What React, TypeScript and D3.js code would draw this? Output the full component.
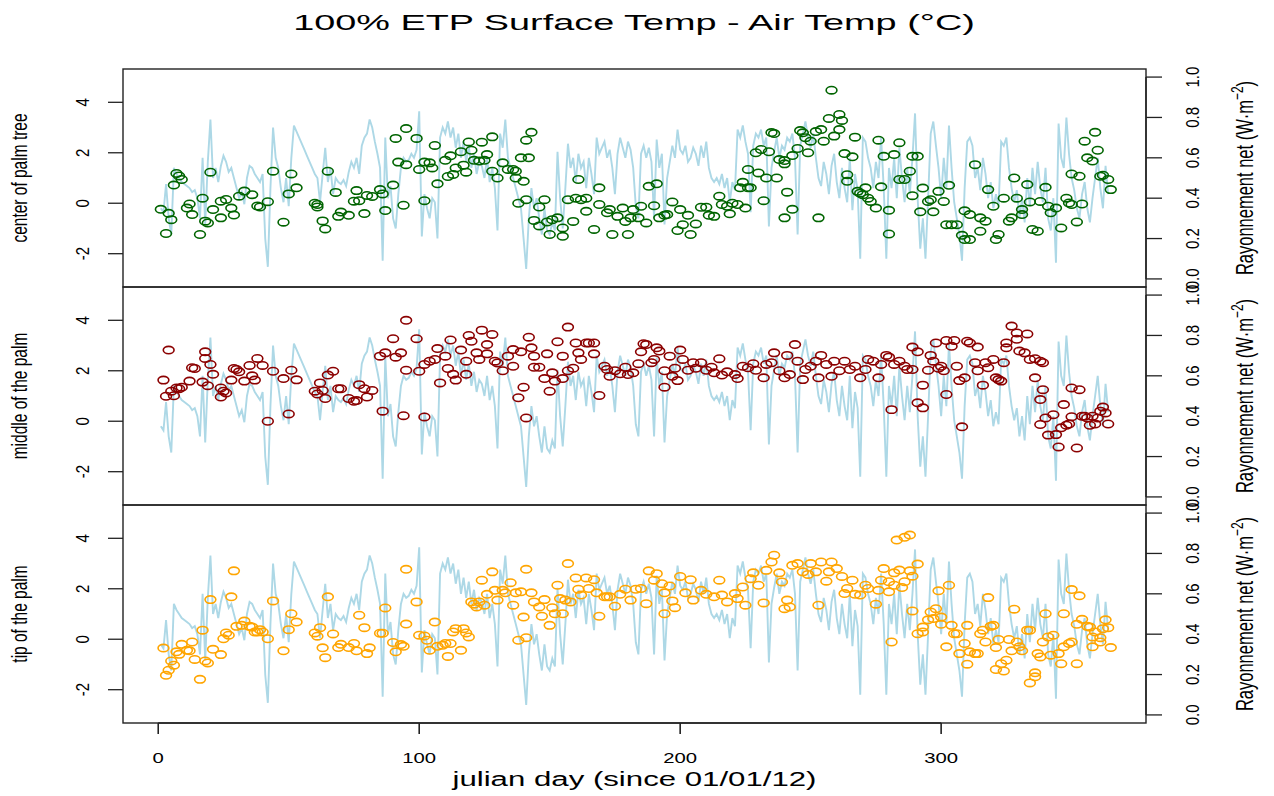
import React from "react";
import * as d3 from "d3";

const dayTicks = [0, 100, 200, 300];
const tempTicks = [-2, 0, 2, 4];
const radTicks = [0, 0.2, 0.4, 0.6, 0.8, 1.0];
const panelLabels = ["center of palm tree", "middle of the palm", "tip of the palm"];
const panelColors = ["#006400", "#8B0000", "#FFA500"];

// net radiation, day 1..364
const netRadiation = [
0.35,0.33,0.47,0.30,0.22,0.55,0.52,0.50,0.48,0.47,
0.46,0.45,0.43,0.44,0.40,0.30,0.60,0.27,0.58,0.79,
0.50,0.55,0.48,0.56,0.61,0.58,0.53,0.55,0.50,0.45,
0.40,0.43,0.37,0.50,0.56,0.55,0.52,0.50,0.48,0.52,
0.20,0.06,0.45,0.75,0.60,0.55,0.45,0.38,0.50,0.36,
0.60,0.76,0.73,0.70,0.67,0.64,0.61,0.58,0.55,0.52,
0.50,0.38,0.52,0.65,0.48,0.55,0.42,0.50,0.48,0.47,
0.49,0.46,0.53,0.58,0.55,0.60,0.52,0.66,0.70,0.72,
0.79,0.75,0.68,0.62,0.55,0.09,0.70,0.40,0.46,0.30,
0.25,0.42,0.55,0.60,0.58,0.59,0.62,0.60,0.64,0.83,
0.21,0.42,0.35,0.30,0.40,0.38,0.20,0.70,0.75,0.72,
0.78,0.70,0.75,0.65,0.72,0.60,0.68,0.58,0.66,0.55,
0.62,0.52,0.58,0.56,0.50,0.60,0.48,0.55,0.45,0.24,
0.72,0.65,0.79,0.60,0.55,0.50,0.45,0.40,0.35,0.20,
0.05,0.30,0.45,0.35,0.40,0.30,0.22,0.35,0.24,0.22,
0.28,0.24,0.63,0.40,0.25,0.45,0.67,0.55,0.60,0.48,
0.62,0.55,0.58,0.45,0.60,0.52,0.42,0.70,0.62,0.65,
0.68,0.60,0.64,0.55,0.42,0.62,0.70,0.65,0.60,0.68,
0.64,0.55,0.36,0.30,0.62,0.66,0.60,0.65,0.58,0.30,
0.69,0.55,0.62,0.27,0.50,0.58,0.66,0.60,0.74,0.64,
0.62,0.66,0.58,0.60,0.65,0.62,0.56,0.66,0.60,0.68,
0.55,0.50,0.48,0.50,0.47,0.52,0.45,0.50,0.38,0.48,
0.44,0.74,0.70,0.76,0.68,0.62,0.33,0.66,0.72,0.70,
0.74,0.66,0.70,0.26,0.55,0.63,0.70,0.60,0.66,0.64,
0.70,0.68,0.72,0.60,0.22,0.66,0.72,0.78,0.70,0.65,
0.72,0.60,0.50,0.46,0.58,0.52,0.42,0.56,0.62,0.48,
0.40,0.55,0.45,0.38,0.60,0.34,0.52,0.44,0.10,0.70,
0.68,0.60,0.55,0.45,0.58,0.50,0.70,0.45,0.10,0.55,
0.45,0.60,0.40,0.65,0.50,0.38,0.55,0.42,0.60,0.82,
0.40,0.15,0.30,0.10,0.40,0.72,0.78,0.66,0.55,0.40,
0.60,0.45,0.76,0.55,0.38,0.30,0.22,0.09,0.45,0.68,
0.70,0.66,0.50,0.55,0.44,0.60,0.52,0.40,0.48,0.35,
0.42,0.36,0.68,0.66,0.70,0.55,0.45,0.38,0.44,0.30,
0.40,0.28,0.50,0.36,0.55,0.42,0.58,0.45,0.38,0.55,
0.30,0.24,0.40,0.08,0.77,0.60,0.55,0.80,0.62,0.50,
0.44,0.35,0.30,0.42,0.48,0.35,0.28,0.40,0.50,0.60,
0.45,0.35,0.56,0.42
];

// [julian day, surface - air temperature]
const centerPalm: [number, number][] = [
[1,-0.24],[3,-1.2],[4,-0.4],[5,-0.65],[6,0.72],[7,1.18],[8,1.08],[9,0.94],[11,-0.19],[12,-0.03],[13,-0.45],[16,-1.24],[17,0.2],[18,-0.71],[19,-0.78],[20,1.23],[21,-0.25],[24,-0.58],[24,0.08],[26,0.15],[28,-0.19],[29,-0.47],[31,0.28],[33,0.48],[36,0.34],[38,-0.11],[39,-0.15],[42,0.06],[44,1.27],[48,-0.75],[50,0.37],[51,1.16],[53,0.61],[60,0],[61,-0.05],[61,-0.15],[63,-0.7],[64,-1.02],[65,1.27],[68,0.43],[69,-0.52],[70,-0.35],[73,-0.48],[75,0.08],[76,0.5],[77,0.1],[79,-0.41],[80,0.31],[82,0.27],[85,0.54],[86,0.37],[87,-0.29],[90,0.72],[91,2.57],[92,1.63],[94,-0.08],[95,1.53],[95,2.96],[99,2.57],[100,1.34],[102,0.1],[102,1.63],[104,1.6],[105,1.4],[106,2.29],[107,0.77],[110,1.7],[111,1.06],[112,1.88],[113,1.14],[114,1.4],[116,2.04],[117,1.51],[118,1.23],[119,2.43],[120,2.1],[121,1.7],[123,1.67],[124,2.42],[125,1.7],[126,1.93],[128,2.63],[128,1.27],[130,1.0],
[132,1.6],[134,1.34],[136,1.34],[137,1.0],[137,1.27],[138,0.0],[139,1.8],[140,0.87],[141,0.14],[141,2.5],[142,1.8],[143,2.81],[144,-0.68],[146,-0.15],[146,-0.9],[148,0.14],[149,-0.74],[150,-1.24],[151,-0.65],[153,-0.58],[155,-1.31],[155,-0.98],[157,0.14],[159,-0.72],[160,0.2],[161,0.94],[162,0.14],[164,0.2],[164,-0.32],[167,-1.04],[169,-0.05],[169,0.61],[172,-0.38],[173,-0.25],[174,-1.24],[176,-0.52],[178,-0.19],[179,-0.72],[180,-1.24],[181,-0.58],[182,-0.25],[184,-0.58],[185,-0.12],[187,-0.78],[188,0.67],[190,-0.1],[191,0.77],[192,-0.58],[194,-0.48],[195,-0.45],[197,0.05],[199,-1.08],[200,-0.25],[201,-0.85],[203,-0.48],[204,-1.24],[206,-0.82],[208,-0.16],[210,-0.16],[211,-0.48],[213,-0.52],[215,0.28],[216,-0.05],[218,-0.12],[219,-0.42],[220,0],[222,-0.05],[223,0.61],[224,0.83],[225,-0.19],[226,0.61],[226,1.34],[227,0.61],[229,2.0],[230,1.2],[231,2.13],[232,0.1],[233,1.0],[234,2.04],[235,2.8],[236,2.76],[237,1.0],[238,1.73],[240,1.69],[240,1.56],[241,0.44],[240,-0.58],[243,-0.24],[243,1.89],[245,2.17],[246,2.88],[247,2.79],[248,2.6],[249,2.0],[250,2.46],[252,2.84],[253,-0.58],[254,2.92],[255,2.46],[257,3.36],[258,4.48],[259,2.66],[261,2.92],[261,3.52],[262,3.28],[263,1.97],[264,0.87],[264,1.13],[266,1.84],[267,2.62],[268,0.47],[269,0.4],[270,0.34],[271,0.61],[272,0.2],[273,0.07],[275,-0.19],[276,2.5],[277,0.65],[278,1.86],[280,-0.28],[280,-1.22],[282,1.93],[284,2.4],[284,0.94],
[286,0.94],[288,1.27],[289,1.86],[289,0.3],[291,1.86],[292,-0.34],[293,0.6],[295,0.07],[296,0.14],[297,-0.34],[299,0.47],[301,0.07],[302,-0.85],[303,0.71],[304,-0.85],[306,-0.85],[308,-1.27],[309,-0.3],[309,-1.44],[311,-0.45],[311,-1.44],[313,1.53],[315,-0.58],[315,-1.11],[317,-0.71],[318,0.54],[320,-0.12],[321,-1.44],[322,-1.24],[324,0.2],[326,-0.71],[327,-0.58],[328,1.0],[329,0.2],[331,-0.25],[331,-0.45],[333,0.74],[334,0.05],[335,-1.04],[337,-1.11],[338,0.07],[340,0.63],[341,-0.12],[342,-0.38],[344,-0.19],[346,-0.98],[348,0.2],[349,0.01],[350,-0.05],[350,1.16],[352,-0.74],[353,1.07],[354,-0.03],[355,2.46],[356,1.8],[358,1.67],[359,2.81],[360,2.1],[361,1.07],[362,1.11],[364,0.94],[365,0.54]
];

const middlePalm: [number, number][] = [
[2,1.63],[4,2.82],[3,0.99],[5,1.19],[6,1.01],[7,1.32],[8,1.29],[9,1.35],[12,1.59],[13,2.12],[14,2.09],[17,1.55],[18,2.75],[18,2.49],[19,1.41],[20,2.25],[21,1.86],[24,0.96],[24,1.32],[25,1.19],[26,1.12],[28,1.63],[29,2.09],[30,2.05],[31,1.96],[33,1.59],[35,2.21],[36,1.8],[37,1.63],[38,2.49],[40,2.21],[42,0.0],[44,1.98],[48,1.69],[50,0.29],[51,2.02],[53,1.64],[60,1.19],[61,1.08],[62,1.52],[63,1.22],[64,0.9],[65,1.83],[67,1.98],[69,1.29],[70,1.29],[73,0.9],[75,0.79],[76,0.82],[77,1.45],[79,1.29],[80,0.96],[82,1.22],[85,2.58],[86,0.4],[87,2.71],[90,3.27],[91,2.54],[93,2.71],[94,0.22],[95,2.02],[95,4.0],[99,3.27],[100,1.98],[102,0.17],[102,2.25],[104,2.38],[106,2.45],[107,2.88],[108,1.52],[110,2.58],[111,2.09],[112,3.22],[113,1.86],[114,1.63],[116,2.82],[118,1.86],[118,2.38],[119,3.4],[120,3.17],[122,2.71],[123,2.45],[124,3.61],[126,3.04],[126,2.67],[128,3.44],[129,2.38],[130,2.31],
[132,2.0],[134,2.58],[136,2.84],[136,2.18],[138,0.93],[139,2.75],[140,1.35],[141,0.13],[142,3.33],[143,2.91],[144,2.58],[144,2.14],[146,2.14],[148,1.69],[149,2.67],[150,1.19],[151,1.92],[152,1.59],[153,3.15],[155,2.58],[155,1.69],[157,2.0],[157,3.73],[159,2.1],[160,3.1],[161,2.71],[162,2.45],[164,3.1],[165,3.1],[167,3.1],[167,2.67],[169,1.02],[171,2.18],[172,2.05],[173,1.78],[175,2.0],[177,1.88],[179,2.14],[180,1.85],[182,1.92],[184,2.28],[185,2.75],[186,3.07],[187,3.04],[189,2.32],[190,2.45],[191,2.91],[192,2.78],[194,1.35],[194,2.0],[196,2.58],[197,1.78],[198,2.1],[199,1.61],[200,2.82],[201,2.45],[203,2.02],[205,2.32],[206,2.1],[208,2.32],[210,2.02],[212,2.14],[213,1.92],[215,2.48],[216,1.83],[218,1.96],[221,1.85],[222,1.69],[224,2.18],[226,2.12],[228,2.28],[229,2.02],[232,1.72],[233,2.25],[235,2.32],[236,2.71],[238,2.0],[240,1.72],[241,2.61],[242,1.85],[244,3.04],[245,2.38],[247,1.65],[248,2.05],[250,2.18],[252,2.38],[253,1.72],[254,2.61],[256,2.25],[258,1.78],[259,2.38],[261,2.0],[263,2.38],[265,2.05],[267,2.18],[269,1.72],[271,2.05],[272,2.45],[274,2.38],[276,1.72],[277,2.25],[279,2.61],[280,2.54],[281,0.46],[282,2.25],[284,2.38],
[286,2.18],[287,2.05],[289,2.05],[289,2.94],[291,2.75],[291,0.73],[293,1.43],[293,0.53],[295,2.02],[296,2.61],[297,2.38],[298,3.1],[299,2.1],[300,2.18],[301,2.0],[302,1.06],[302,3.2],[304,2.97],[305,3.2],[306,2.18],[307,1.61],[308,-0.22],[309,1.72],[310,3.17],[311,3.1],[313,2.32],[314,2.94],[314,2.0],[316,1.43],[317,2.32],[318,2.12],[320,2.45],[321,1.72],[322,1.65],[323,1.59],[324,2.32],[325,2.91],[325,3.1],[327,3.77],[329,3.5],[329,3.25],[330,2.78],[332,2.71],[333,3.46],[334,2.45],[336,2.48],[336,1.72],[338,2.38],[339,2.32],[338,0.86],[339,1.25],[338,-0.13],[340,0.13],[341,-0.55],[343,0.26],[344,-0.53],[345,-1.02],[346,-0.26],[347,0.66],[348,-0.16],[349,-0.11],[350,1.32],[350,0.18],[352,-1.06],[353,1.25],[354,0.2],[355,0.2],[356,0.13],[357,-0.16],[358,0.2],[359,-0.11],[360,0.13],[361,0.4],[362,0.56],[363,0.33],[364,-0.11]
];

const tipPalm: [number, number][] = [
[2,-0.35],[3,-1.43],[4,-1.23],[5,-0.86],[6,-1.03],[7,-0.5],[8,-0.6],[9,-0.2],[11,-0.44],[12,-0.46],[13,-0.11],[14,-0.8],[16,-1.59],[17,0.36],[18,-0.86],[19,-0.94],[20,1.57],[21,-0.4],[24,-0.61],[25,0.02],[26,0.25],[27,0.16],[28,1.68],[29,2.71],[30,0.51],[32,0.55],[33,0.72],[35,0.51],[36,0.48],[37,0.29],[38,0.29],[39,0.38],[40,0.29],[42,0.02],[44,1.52],[48,-0.46],[50,0.38],[51,1.01],[53,0.68],[60,0.25],[61,0.12],[62,0.46],[63,-0.34],[64,-0.73],[65,1.68],[67,0.21],[69,-0.33],[70,-0.2],[73,-0.33],[75,-0.17],[76,-0.46],[77,0.95],[79,0.46],[80,-0.57],[81,-0.34],[85,0.24],[86,0.24],[87,1.24],[90,-0.13],[91,-0.5],[93,-0.21],[94,-0.28],[95,0.6],[95,2.77],[99,1.48],[100,0.16],[102,0.13],[103,-0.04],[104,-0.44],[106,0.68],[107,-0.28],[109,-0.24],[110,-0.17],[111,-0.68],[112,-0.17],[113,0.29],[114,0.42],[116,-0.44],[117,0.42],[118,0.25],[119,0.09],[120,1.48],[121,1.39],[122,1.28],[123,1.48],[124,2.34],[125,1.35],[126,1.78],[128,2.67],[129,1.94],[130,1.55],
[132,1.94],[133,1.84],[135,2.24],[136,1.35],[137,1.84],[138,-0.04],[139,1.88],[140,0.88],[141,0.06],[141,2.77],[143,1.84],[144,1.48],[146,1.28],[147,0.91],[148,1.57],[150,0.55],[151,1.25],[152,1.01],[153,2.14],[154,1.61],[155,1.01],[156,1.55],[157,3.0],[158,1.48],[160,2.43],[161,1.98],[162,1.75],[164,2.43],[165,2.01],[167,2.36],[168,1.84],[169,0.91],[171,1.68],[172,1.68],[173,1.68],[175,1.31],[177,1.78],[179,1.98],[181,1.55],[183,1.98],[185,2.01],[187,1.41],[188,2.71],[190,2.34],[191,2.6],[193,2.2],[194,1.01],[194,1.84],[196,2.11],[197,1.52],[198,1.25],[200,2.49],[202,1.84],[204,2.36],[205,1.55],[208,1.94],[210,1.78],[213,1.68],[215,2.34],[216,1.75],[218,1.48],[221,1.81],[222,1.61],[224,2.07],[225,1.35],[227,2.4],[228,2.63],[230,2.14],[232,1.44],[233,2.73],[235,3.06],[236,3.33],[238,2.63],[239,2.27],[240,1.21],[241,1.55],[242,1.28],[243,2.93],[245,3.0],[247,2.67],[249,2.57],[250,3.0],[252,2.67],[253,1.35],[254,3.06],[256,2.3],[257,2.67],[258,3.06],[260,2.8],[262,2.49],[263,1.81],[264,2.01],[266,2.34],[267,1.78],[269,1.75],[271,2.14],[272,2.01],[275,1.39],[276,1.94],[277,2.34],[278,2.8],[280,1.88],
[280,2.28],[281,-0.11],[282,2.63],[282,2.14],[283,3.93],[284,2.74],[285,2.05],[286,4.04],[286,2.28],[288,4.13],[288,2.71],[289,2.5],[289,1.12],[291,2.98],[291,0.22],[293,0.29],[293,0.48],[295,0.77],[296,1.08],[297,0.82],[298,1.21],[299,1.92],[300,0.59],[300,0.88],[302,-0.3],[303,2.14],[304,0.55],[305,0.22],[306,0.22],[307,-0.57],[309,-0.17],[310,-0.99],[310,0.55],[311,-0.5],[313,-0.57],[314,-0.57],[315,0.22],[316,0.36],[318,1.65],[317,-0.11],[319,0.51],[320,0.55],[321,-0.33],[322,-0.01],[321,-1.2],[323,-0.97],[324,-1.26],[325,-0.83],[326,-0.01],[327,-0.46],[328,1.19],[329,-0.11],[331,-0.46],[330,-0.3],[333,0.36],[334,0.36],[334,-1.73],[336,-1.49],[336,-1.33],[337,-0.57],[338,-0.7],[339,-0.11],[340,1.01],[341,0.09],[342,-0.63],[343,0.16],[345,-0.57],[346,-0.97],[347,-0.3],[347,1.01],[349,-0.17],[350,-0.11],[350,1.97],[352,0.59],[352,-0.97],[353,1.72],[354,0.79],[356,0.51],[357,0.48],[358,0.09],[358,-0.3],[359,0.29],[361,0.06],[361,-0.11],[362,0.42],[363,0.77],[364,0.46],[365,-0.33]
];

const panelSeries = [centerPalm, middlePalm, tipPalm];

const W = 1274;
const H = 796;
const PL = 123;
const PR = 1146;
const PTOPS = [69, 287, 505];
const PH = 218;
const FONT = "'Liberation Sans', Arial, sans-serif";

function SText(props: {
  x: number; y: number; sx: number; rot?: number; size: number;
  anchor?: string; children: React.ReactNode;
}) {
  const { x, y, sx, rot = 0, size, anchor = "middle", children } = props;
  return (
    <text
      transform={`translate(${x},${y}) scale(${sx},1) rotate(${rot})`}
      fontSize={size}
      textAnchor={anchor}
      fontFamily={FONT}
      fill="#000"
    >
      {children}
    </text>
  );
}

export default function App() {
  const x = d3.scaleLinear().domain([-13.5, 378.5]).range([PL, PR]);
  const fmt = d3.format(".1f");

  return (
    <svg
      width={W}
      height={H}
      style={{ position: "absolute", left: 0, top: 0, background: "#fff" }}
    >
      <rect x={0} y={0} width={W} height={H} fill="#fff" />
      <SText x={634} y={30} sx={1.76} size={21.5}>
        100% ETP Surface Temp - Air Temp (°C)
      </SText>
      {PTOPS.map((top, pi) => {
        const yT = d3.scaleLinear().domain([-3.32, 5.32]).range([top + PH, top]);
        const yR = d3.scaleLinear().domain([-0.04, 1.04]).range([top + PH, top]);
        const line = d3
          .line<number>()
          .x((_, i) => x(i + 1))
          .y((d) => yR(d));
        const pts = panelSeries[pi];
        return (
          <g key={pi}>
            <path d={line(netRadiation) || ""} fill="none" stroke="#ADD8E6" strokeWidth={1.9} strokeLinejoin="miter" />
            {pts.map((p, i) => (
              <ellipse
                key={i}
                cx={x(p[0])}
                cy={yT(p[1])}
                rx={5.4}
                ry={3.7}
                fill="none"
                stroke={panelColors[pi]}
                strokeWidth={1.6}
              />
            ))}
            <rect x={PL} y={top} width={PR - PL} height={PH} fill="none" stroke="#222" strokeWidth={1.4} />
            {tempTicks.map((t) => (
              <g key={"l" + t}>
                <line x1={PL} x2={PL - 15} y1={yT(t)} y2={yT(t)} stroke="#222" strokeWidth={1.3} />
                <SText x={88.5} y={yT(t)} sx={1.2} rot={-90} size={15}>
                  {String(t)}
                </SText>
              </g>
            ))}
            <SText x={27} y={top + PH / 2} sx={1.45} rot={-90} size={15.5}>
              {panelLabels[pi]}
            </SText>
            <line x1={PR} x2={PR} y1={yR(0)} y2={yR(1)} stroke="#222" strokeWidth={1.4} />
            {radTicks.map((t) => (
              <g key={"r" + t}>
                <line x1={PR} x2={PR + 16} y1={yR(t)} y2={yR(t)} stroke="#222" strokeWidth={1.3} />
                <SText x={1198.5} y={yR(t)} sx={1.2} rot={-90} size={15}>
                  {fmt(t)}
                </SText>
              </g>
            ))}
            <SText x={1253} y={top + PH / 2} sx={1.4} rot={-90} size={16.5}>
              <tspan>Rayonnement net (W·m</tspan>
              <tspan dy={-7} fontSize={12}>−2</tspan>
              <tspan dy={7}>)</tspan>
            </SText>
          </g>
        );
      })}
      <line x1={x(0)} x2={x(300)} y1={PTOPS[2] + PH} y2={PTOPS[2] + PH} stroke="#222" strokeWidth={1.3} />
      {dayTicks.map((t) => (
        <g key={"x" + t}>
          <line x1={x(t)} x2={x(t)} y1={PTOPS[2] + PH} y2={PTOPS[2] + PH + 11} stroke="#222" strokeWidth={1.6} />
          <SText x={x(t)} y={763} sx={1.4} size={14.5}>
            {String(t)}
          </SText>
        </g>
      ))}
      <SText x={634.5} y={786} sx={1.6} size={19.5}>
        julian day (since 01/01/12)
      </SText>
    </svg>
  );
}
